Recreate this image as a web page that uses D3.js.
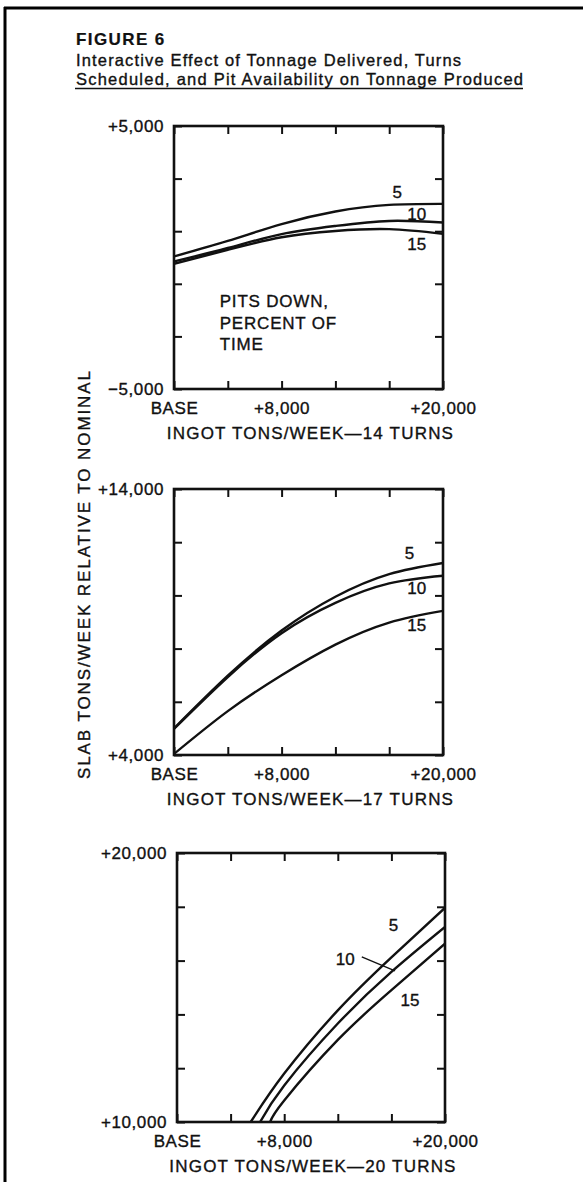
<!DOCTYPE html>
<html><head><meta charset="utf-8">
<script src="https://cdn.jsdelivr.net/npm/d3@7"></script>
<style>
body{margin:0;background:#fff}
svg{display:block}
text{font-family:"Liberation Sans",Arial,Helvetica,sans-serif;fill:#111;stroke:#111;stroke-width:0.35px}
</style>
</head><body>
<svg id="chart" width="583" height="1182"></svg>
<script>
// ---------------- data ----------------
const figureTitle = "FIGURE 6";
const subtitleLines = ["Interactive Effect of Tonnage Delivered, Turns",
                       "Scheduled, and Pit Availability on Tonnage Produced"];
const yAxisTitle = "SLAB TONS/WEEK RELATIVE TO NOMINAL";
const seriesNames = ["5", "10", "15"];           // pits down, percent of time
const noteLines = ["PITS DOWN,", "PERCENT OF", "TIME"];
const xTickValues = [0, 4000, 8000, 12000, 16000, 20000];
const xLabelValues = [0, 8000, 20000];
const xLabelText = ["BASE", "+8,000", "+20,000"];
const panelTitles = ["INGOT TONS/WEEK\u201414 TURNS",
                     "INGOT TONS/WEEK\u201417 TURNS",
                     "INGOT TONS/WEEK\u201420 TURNS"];
const yDomain14 = [-5000, 5000];
const yDomain17 = [4000, 14000];
const yDomain20 = [10000, 20000];
const yLabels14 = ["\u22125,000", "+5,000"];
const yLabels17 = ["+4,000", "+14,000"];
const yLabels20 = ["+10,000", "+20,000"];

// 14 turns
const x14 = [0, 4000, 8000, 12000, 16000, 20000];
const y14_5  = [40, 630, 1270, 1750, 2000, 2040];
const y14_10 = [-150, 360, 890, 1200, 1390, 1330];
const y14_15 = [-240, 290, 770, 1010, 1080, 900];
// 17 turns
const x17 = [0, 4000, 8000, 12000, 16000, 20000];
const y17_5  = [5000, 6980, 8680, 9950, 10800, 11220];
const y17_10 = [4980, 6930, 8580, 9720, 10450, 10740];
const y17_15 = [4040, 5650, 7000, 8150, 8980, 9420];
// 20 turns
const x20_5  = [5500, 8000, 12000, 16000, 20000];
const y20_5  = [10000, 11800, 14150, 16120, 17960];
const x20_10 = [6200, 8000, 12000, 16000, 20000];
const y20_10 = [10000, 11360, 13660, 15580, 17250];
const x20_15 = [6950, 8000, 12000, 16000, 20000];
const y20_15 = [10000, 10800, 13050, 14900, 16630];

// series label anchors (data coordinates)
const lab14 = [[16600, 2490], [18050, 1620], [18050, 480]];
const lab17 = [[17500, 11590], [18050, 10250], [18050, 8870]];
const lab20 = [[16150, 17310], [12550, 16050], [17390, 14520]];
const leader20 = [[13790, 16140], [16270, 15620]];
const note14 = [3400, -1680];

// ---------------- layout ----------------
const FONT = 17;
const svg = d3.select("#chart");

// frame lines of the scanned page
svg.append("line").attr("x1", 5).attr("x2", 5).attr("y1", 7).attr("y2", 1182)
  .attr("stroke", "#000").attr("stroke-width", 3);
svg.append("line").attr("x1", 4).attr("x2", 583).attr("y1", 8).attr("y2", 8)
  .attr("stroke", "#000").attr("stroke-width", 3);

// titles
svg.append("text").attr("x", 76).attr("y", 45)
  .attr("font-size", FONT).attr("font-weight", "bold").attr("letter-spacing", 1.4)
  .style("stroke-width", "0.2px")
  .text(figureTitle);
const subW = [385, 447];
subtitleLines.forEach((t, i) => {
  svg.append("text").attr("x", 76).attr("y", 66 + i * 18.5)
    .attr("font-size", 16.5).attr("textLength", subW[i]).attr("lengthAdjust", "spacing")
    .text(t);
});
svg.append("line").attr("x1", 75).attr("x2", 76 + subW[1]).attr("y1", 88.5).attr("y2", 88.5)
  .attr("stroke", "#111").attr("stroke-width", 1.6);

// y axis title (shared)
svg.append("text")
  .attr("transform", "translate(90,575) rotate(-90)")
  .attr("text-anchor", "middle").attr("font-size", FONT)
  .attr("textLength", 408).attr("lengthAdjust", "spacing")
  .text(yAxisTitle);

const panels = [
  {box: [174, 126, 443, 389], yDomain: yDomain14, yLabels: yLabels14, title: panelTitles[0],
   series: [[x14, y14_5], [x14, y14_10], [x14, y14_15]], labels: lab14, note: true},
  {box: [174, 489, 443, 755], yDomain: yDomain17, yLabels: yLabels17, title: panelTitles[1],
   series: [[x17, y17_5], [x17, y17_10], [x17, y17_15]], labels: lab17},
  {box: [177, 853, 445, 1122], yDomain: yDomain20, yLabels: yLabels20, title: panelTitles[2],
   series: [[x20_5, y20_5], [x20_10, y20_10], [x20_15, y20_15]], labels: lab20, leader: leader20}
];

panels.forEach((p, pi) => {
  const [x0, y0, x1, y1] = p.box;
  const x = d3.scaleLinear().domain([0, 20000]).range([x0, x1]);
  const y = d3.scaleLinear().domain(p.yDomain).range([y1, y0]);
  const yTicks = d3.range(6).map(i => p.yDomain[0] + i * (p.yDomain[1] - p.yDomain[0]) / 5);
  const g = svg.append("g");

  const clipId = "clip" + pi;
  g.append("clipPath").attr("id", clipId).append("rect")
    .attr("x", x0).attr("y", y0).attr("width", x1 - x0).attr("height", y1 - y0);

  // inward tick marks on all four sides
  const tickLen = -8;
  const mk = (axis, tx, ty) => {
    const a = g.append("g").attr("transform", `translate(${tx},${ty})`).call(axis);
    a.select(".domain").remove();
    a.selectAll("line").attr("stroke", "#111").attr("stroke-width", 2);
    a.selectAll("text").remove();
  };
  mk(d3.axisBottom(x).tickValues(xTickValues).tickSize(tickLen).tickFormat(""), 0, y1);
  mk(d3.axisTop(x).tickValues(xTickValues).tickSize(tickLen).tickFormat(""), 0, y0);
  mk(d3.axisLeft(y).tickValues(yTicks).tickSize(tickLen).tickFormat(""), x0, 0);
  mk(d3.axisRight(y).tickValues(yTicks).tickSize(tickLen).tickFormat(""), x1, 0);

  // frame
  g.append("rect").attr("x", x0).attr("y", y0).attr("width", x1 - x0).attr("height", y1 - y0)
    .attr("fill", "none").attr("stroke", "#111").attr("stroke-width", 2.6);

  // x labels
  const xl = g.append("g").attr("transform", `translate(0,${y1})`)
    .call(d3.axisBottom(x).tickValues(xLabelValues).tickSize(0).tickPadding(13)
      .tickFormat((d, i) => xLabelText[i]));
  xl.select(".domain").remove();
  xl.attr("font-size", FONT).attr("font-family", null);
  xl.selectAll("text").attr("letter-spacing", 0.6).attr("fill", "#111");

  // y labels
  const yl = g.append("g").attr("transform", `translate(${x0},0)`)
    .call(d3.axisLeft(y).tickValues(p.yDomain).tickSize(0).tickPadding(10)
      .tickFormat((d, i) => p.yLabels[i]));
  yl.select(".domain").remove();
  yl.attr("font-size", FONT).attr("font-family", null);
  yl.selectAll("text").attr("letter-spacing", 0.6).attr("fill", "#111");

  // x axis title
  g.append("text").attr("x", (x0 + x1) / 2 + 2).attr("y", y1 + 50)
    .attr("text-anchor", "middle").attr("font-size", FONT).attr("letter-spacing", 1.2)
    .text(p.title);

  // curves
  const line = d3.line().x(d => x(d[0])).y(d => y(d[1])).curve(d3.curveNatural);
  p.series.forEach(([xs, ys]) => {
    g.append("path").attr("clip-path", `url(#${clipId})`)
      .attr("d", line(xs.map((v, i) => [v, ys[i]])))
      .attr("fill", "none").attr("stroke", "#111").attr("stroke-width", 2.4);
  });

  // series labels
  p.labels.forEach((l, i) => {
    g.append("text").attr("x", x(l[0])).attr("y", y(l[1]))
      .attr("text-anchor", "middle").attr("dominant-baseline", "central")
      .attr("font-size", FONT).text(seriesNames[i]);
  });
  if (p.leader) {
    g.append("line").attr("x1", x(p.leader[0][0])).attr("y1", y(p.leader[0][1]))
      .attr("x2", x(p.leader[1][0])).attr("y2", y(p.leader[1][1]))
      .attr("stroke", "#111").attr("stroke-width", 1.4);
  }
  if (p.note) {
    noteLines.forEach((t, i) => {
      g.append("text").attr("x", x(note14[0])).attr("y", y(note14[1]) + i * 21.5)
        .attr("dominant-baseline", "central").attr("font-size", FONT).attr("letter-spacing", 0.8)
        .text(t);
    });
  }
});
</script>
</body></html>
